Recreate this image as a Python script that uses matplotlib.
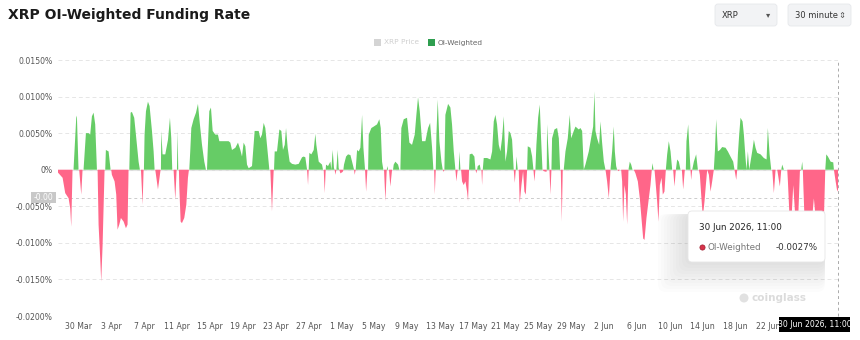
import matplotlib
matplotlib.use("Agg")
import matplotlib.pyplot as plt
from matplotlib.patches import FancyBboxPatch, Rectangle, Circle
import numpy as np
import pandas as pd

# funding rate (days after 27 Mar 2026 00:00, value in %)
start = pd.Timestamp("2026-03-27 00:00")
days = [
    0.50, 1.06, 1.38, 1.79, 1.99, 2.11, 2.27,
    2.39, 2.72, 2.80, 3.00,
    3.08, 3.33, 3.49,
    3.61, 3.90, 4.22, 4.42, 4.63, 4.83, 5.03, 5.24,
    5.32, 5.44, 5.64, 5.76, 5.93, 6.17,
    6.25, 6.33, 6.66, 6.90,
    6.98, 7.06, 7.39, 7.59, 7.75, 7.96, 8.16, 8.49, 8.77, 8.97, 9.09,
    9.18, 9.34, 9.50, 9.78, 10.11, 10.31, 10.47,
    10.60, 10.80, 10.92,
    10.96, 11.04, 11.21, 11.45, 11.65, 11.94, 12.14, 12.26,
    12.34, 12.67, 12.99,
    13.03, 13.07, 13.23, 13.56, 13.89, 14.13, 14.29, 14.41,
    14.57, 14.78, 14.94,
    14.98, 15.06, 15.14,
    15.22, 15.26, 15.43, 15.59, 15.87, 16.12, 16.32, 16.44,
    16.48, 16.60, 16.73, 17.01, 17.30, 17.54, 17.74, 18.03, 18.31, 18.51,
    18.64, 18.72, 18.92, 19.12, 19.33, 19.65, 19.97, 20.14, 20.46, 21.27,
    21.48, 21.68, 22.09, 22.41, 22.70, 22.90, 23.10, 23.31, 23.51, 23.71,
    24.12, 24.44, 24.93, 25.13, 25.33, 25.54, 25.74, 25.94, 26.23,
    26.35, 26.55, 26.76,
    26.80, 26.88, 27.16, 27.45, 27.69, 27.89, 28.10, 28.26, 28.46, 28.70,
    28.99, 29.39, 29.80, 30.21, 30.41, 30.61, 30.82,
    30.94, 31.02,
    31.10, 31.34, 31.63, 31.83, 31.95, 32.24, 32.64, 32.76,
    32.85, 32.97, 33.09,
    33.13, 33.37, 33.66, 33.78, 33.94, 34.10, 34.18,
    34.27, 34.39,
    34.55, 34.67, 34.75,
    34.88, 35.16, 35.24,
    35.32, 35.57, 35.81, 36.10, 36.39, 36.54,
    36.62, 36.74,
    36.91, 37.11, 37.31, 37.52, 37.68, 37.88,
    38.01, 38.17,
    38.25, 38.33, 38.65, 38.94, 39.34, 39.62, 39.79, 39.95, 40.11,
    40.19, 40.36, 40.52,
    40.60, 40.68,
    40.80, 40.96, 41.17,
    41.29, 41.37, 41.57, 41.90, 42.06,
    42.18, 42.30, 42.59, 42.99, 43.28, 43.60, 43.93, 44.13, 44.33, 44.54,
    44.82, 45.23, 45.55, 45.80, 46.04, 46.20,
    46.29, 46.37, 46.49,
    46.57, 46.73, 46.93, 47.18, 47.34,
    47.46, 47.54,
    47.66, 47.99, 48.27, 48.47, 48.68, 48.88,
    49.00, 49.16,
    49.29, 49.37, 49.49,
    49.57, 49.69, 49.89, 50.10, 50.30, 50.42, 50.54,
    50.62, 50.91, 51.19, 51.32,
    51.44, 51.52,
    51.60, 51.84, 51.96,
    52.05, 52.13, 52.21,
    52.33, 52.74, 53.14, 53.35, 53.55, 53.75, 53.95, 54.16, 54.36, 54.56,
    54.77, 54.97, 55.17, 55.38, 55.58, 55.78, 55.98,
    56.11, 56.23,
    56.31, 56.47,
    56.59, 56.71, 56.92, 57.12, 57.28, 57.45, 57.61,
    57.69, 58.01, 58.22, 58.38,
    58.50, 58.62,
    58.74, 58.95, 59.15, 59.31, 59.48,
    59.64, 59.96, 60.00,
    60.04, 60.21, 60.33,
    60.45, 60.57,
    60.65, 60.94, 61.26, 61.47, 61.63,
    61.71, 61.83, 61.95,
    62.07, 62.28, 62.56, 62.80, 62.97, 63.29, 63.50, 63.70, 63.90, 64.10,
    64.31, 64.51,
    64.71, 65.12, 65.40, 65.65, 65.81, 65.93, 66.13, 66.38, 66.54, 66.74,
    66.95, 67.15,
    67.35, 67.56, 67.76,
    67.96, 68.16, 68.29, 68.45, 68.57,
    68.77, 68.89, 69.06, 69.18, 69.30, 69.46, 69.63, 69.79, 69.95,
    70.11, 70.28, 70.44,
    70.60, 70.80, 71.09, 71.33, 71.53, 71.74, 71.90, 72.14, 72.43, 72.63, 72.79,
    72.87, 73.00,
    73.12, 73.24, 73.44, 73.60, 73.77, 73.97, 74.13, 74.33, 74.50,
    74.66, 74.86, 75.07, 75.27,
    75.39, 75.55, 75.72,
    75.88, 76.08, 76.28,
    76.45, 76.61, 76.81,
    76.93, 77.01, 77.22, 77.38, 77.50,
    77.58, 77.71,
    77.91, 78.19, 78.40,
    78.52, 78.64, 78.80, 79.00, 79.21, 79.37, 79.53, 79.74, 79.94, 80.14, 80.34,
    80.47, 80.63, 80.83, 81.08, 81.36, 81.77, 82.05, 82.37, 82.70, 82.86,
    83.07, 83.19,
    83.27, 83.43, 83.59, 83.84, 84.00, 84.20, 84.32,
    84.49, 84.65, 84.81, 85.01, 85.22, 85.42, 85.62, 86.03, 86.43, 86.76,
    86.92, 87.13, 87.33,
    87.45, 87.65, 87.86, 88.06, 88.38, 88.55,
    88.67, 88.87,
    89.28, 89.36, 89.56, 89.76, 90.01, 90.29, 90.57, 90.82, 90.98,
    91.10, 91.18,
    91.22, 91.39, 91.71, 92.04, 92.32, 92.52, 92.73, 92.93, 93.26, 93.54,
    93.74, 93.91,
    94.03, 94.23, 94.56, 94.88, 94.96,
    95.17, 95.37, 95.458,
]
rate = [
    -0.0004, -0.0011, -0.0032, -0.0039, -0.0053, -0.0078, 0,
    0, 0.0071, 0.0074, 0,
    0, -0.0034, 0,
    0, 0.0050, 0.0050, 0.0048, 0.0073, 0.0078, 0.0062, 0,
    0, -0.0075, -0.0121, -0.0153, -0.0103, 0,
    0, 0.0027, 0.0025, 0,
    0, -0.0007, -0.0016, -0.0034, -0.0082, -0.0075, -0.0066, -0.0071, -0.0080, -0.0075, 0,
    0, 0.0078, 0.0079, 0.0071, 0.0034, 0.0011, 0,
    0, -0.0048, 0,
    0, 0.0048, 0.0080, 0.0093, 0.0087, 0.0053, 0.0025, 0,
    0, -0.0027, 0,
    0, 0.0053, 0.0021, 0.0021, 0.0041, 0.0071, 0.0043, 0,
    0, -0.0041, 0,
    0, 0.0053, 0,
    0, -0.0021, -0.0071, -0.0073, -0.0066, -0.0048, -0.0011, 0,
    0, 0.0025, 0.0057, 0.0069, 0.0078, 0.0090, 0.0066, 0.0034, 0.0011, 0,
    0, 0.0025, 0.0080, 0.0085, 0.0053, 0.0048, 0.0048, 0.0039, 0.0039, 0.0039,
    0.0037, 0.0027, 0.0030, 0.0037, 0.0027, 0.0018, 0.0037, 0.0032, 0.0007, 0.0002,
    0.0005, 0.0053, 0.0053, 0.0043, 0.0048, 0.0064, 0.0057, 0.0034, 0,
    0, -0.0057, 0,
    0, 0.0025, 0.0025, 0.0055, 0.0053, 0.0027, 0.0034, 0.0057, 0.0030, 0.0011,
    0.0008, 0.0007, 0.0008, 0.0017, 0.0018, 0.0017, 0,
    -0.0021, 0,
    0.0023, 0.0021, 0.0027, 0.0049, 0.0034, 0.0011, 0.0007, 0,
    0, -0.0032, 0,
    0.0007, 0.0005, 0.0011, 0, 0.0027, 0.0002, 0,
    -0.0007, 0,
    0.0027, 0.0002, 0,
    -0.0005, -0.0003, 0,
    0.0007, 0.0018, 0.0021, 0.0020, 0.0007, 0,
    -0.0007, 0,
    0.0027, 0.0025, 0.0030, 0.0075, 0.0030, 0,
    -0.0030, 0,
    0, 0.0048, 0.0057, 0.0059, 0.0062, 0.0069, 0.0057, 0.0011, 0,
    0, -0.0043, 0,
    0.0005, 0,
    0, -0.0023, 0,
    0, 0.0007, 0.0011, 0.0007, 0,
    0, 0.0057, 0.0069, 0.0071, 0.0037, 0.0034, 0.0048, 0.0075, 0.0099, 0.0080,
    0.0039, 0.0039, 0.0057, 0.0064, 0.0030, 0,
    0, -0.0034, 0,
    0.0048, 0.0096, 0.0039, 0.0011, 0,
    -0.0003, 0,
    0.0075, 0.0090, 0.0085, 0.0062, 0.0025, 0,
    -0.0016, 0,
    0, 0.0025, 0,
    0, -0.0016, -0.0021, -0.0016, -0.0030, -0.0043, 0,
    0.0021, 0.0022, 0.0018, 0,
    -0.0005, 0,
    0.0005, 0.0007, 0,
    0, -0.0021, 0,
    0.0016, 0.0016, 0.0014, 0.0025, 0.0066, 0.0075, 0.0062, 0.0034, 0.0025, 0.0043,
    0.0073, 0.0011, 0.0025, 0.0053, 0.0050, 0.0041, 0,
    -0.0018, 0,
    0.0018, 0,
    0, -0.0046, -0.0021, -0.0002, -0.0030, -0.0034, 0,
    0.0032, 0.0030, 0.0018, 0,
    -0.0016, 0,
    0.0034, 0.0071, 0.0089, 0.0043, 0,
    -0.0002, -0.0003, 0,
    0.0062, 0.0025, 0,
    -0.0034, 0,
    0.0043, 0.0055, 0.0057, 0.0043, 0,
    0, -0.0071, 0,
    0, 0.0025, 0.0043, 0.0075, 0.0043, 0.0053, 0.0059, 0.0057, 0.0055, 0.0057,
    0.0053, 0,
    0.0007, 0.0025, 0.0043, 0.0059, 0.0107, 0.0053, 0.0043, 0.0034, 0.0066, 0.0037,
    0.0011, 0,
    -0.0016, -0.0039, 0,
    0.0025, 0.0059, 0.0025, 0.0005, 0,
    -0.0002, 0, 0, -0.0016, -0.0071, -0.0021, -0.0034, -0.0075, 0,
    0.0011, 0.0007, 0,
    0, -0.0005, -0.0016, -0.0039, -0.0066, -0.0094, -0.0096, -0.0066, -0.0039, -0.0021, 0,
    0.0009, 0,
    0, -0.0016, -0.0043, -0.0071, -0.0021, -0.0011, -0.0034, -0.0030, 0,
    0.0021, 0.0039, 0.0025, 0,
    0, -0.0023, 0,
    0.0014, 0.0011, 0,
    0, -0.0027, 0,
    0, 0.0039, 0.0062, 0.0025, 0,
    -0.0014, 0,
    0.0011, 0.0021, 0,
    0, -0.0007, -0.0034, -0.0065, -0.0043, -0.0021, 0, -0.0007, -0.0030, -0.0016, 0,
    0.0025, 0.0069, 0.0025, 0.0027, 0.0031, 0.0030, 0.0025, 0.0018, 0.0011, 0,
    -0.0014, 0,
    0.0021, 0.0048, 0.0071, 0.0066, 0.0048, 0.0016, 0,
    0.0025, 0, 0.0011, 0.0025, 0.0041, 0.0030, 0.0023, 0.0021, 0.0016, 0.0014,
    0.0057, 0.0021, 0,
    0, -0.0032, 0, 0, -0.0023, 0,
    0.0007, 0,
    0, -0.0016, -0.0066, -0.0075, -0.0021, -0.0070, -0.0080, -0.0002, 0,
    0.0011, 0,
    -0.0016, -0.0070, -0.0060, -0.0075, -0.0065, -0.0039, -0.0065, -0.0058, -0.0070, -0.0060,
    -0.0068, 0,
    0.0021, 0.0018, 0.0011, 0.0010, 0,
    -0.0016, -0.0030, -0.0027,
]
yticks = [0.015, 0.01, 0.005, 0, -0.005, -0.01, -0.015, -0.02]
xticks = pd.date_range("2026-03-30", "2026-06-22", freq="4D")
hover_value = "-0.0027%"
hover_label = "30 Jun 2026, 11:00"

t = start + pd.to_timedelta(days, unit="D")
r = np.array(rate)

green = "#66cc66"
pink = "#ff6689"

fig = plt.figure(figsize=(8.6, 3.4), dpi=100)
fig.patch.set_facecolor("white")
ax = fig.add_axes([58 / 860, 24 / 340, 780 / 860, 256 / 340])

ax.fill_between(t, r, 0, where=r >= 0, interpolate=True, color=green, lw=0, zorder=2)
ax.fill_between(t, r, 0, where=r <= 0, interpolate=True, color=pink, lw=0, zorder=2)
ax.axhline(0, color="#dcdcdc", lw=0.8, zorder=1)

ax.set_xlim(t[0], t[-1])
ax.set_ylim(-0.02, 0.015)
ax.set_yticks(yticks)
ax.set_yticklabels(["0%" if v == 0 else f"{v:.4f}%" for v in yticks])
ax.set_xticks(xticks)
ax.set_xticklabels([f"{d.day} {d:%b}" for d in xticks])
ax.tick_params(length=0, labelsize=5.6, colors="#555555")
ax.tick_params(axis="y", pad=4)
ax.tick_params(axis="x", pad=4)
ax.yaxis.grid(True, color="#e6e6e6", lw=0.7, linestyle=(0, (4, 3)), zorder=0)
for s in ax.spines.values():
    s.set_visible(False)

# crosshair
ax.axvline(t[-1], color="#aaaaaa", lw=0.7, linestyle=(0, (3, 3)), clip_on=False, zorder=3)
ax.axhline(-0.0038, color="#cccccc", lw=0.7, linestyle=(0, (3, 3)), zorder=1)

# overlay in pixel coordinates for the page furniture
ov = fig.add_axes([0, 0, 1, 1], zorder=5)
ov.set_xlim(0, 860)
ov.set_ylim(340, 0)
ov.axis("off")

ov.text(8, 15, "XRP OI-Weighted Funding Rate", fontsize=10, fontweight="bold",
        color="#1b1b1b", va="center", ha="left")

# selectors
for x0, w, label, arrow in [(715, 62, "XRP", "▾"), (788, 63, "30 minute", "⇕")]:
    ov.add_patch(FancyBboxPatch((x0, 4), w, 22, boxstyle="round,pad=0,rounding_size=3",
                                fc="#f2f3f5", ec="#e6e8eb", lw=0.6))
    ov.text(x0 + 7, 15, label, fontsize=6, color="#333333", va="center")
    ov.text(x0 + w - 9, 15, arrow, fontsize=6, color="#555555", va="center", ha="center")

# legend
ov.add_patch(Rectangle((374, 39), 7, 7, fc="#d4d4d4", ec="none"))
ov.text(384, 42.5, "XRP Price", fontsize=5.3, color="#cfcfcf", va="center")
ov.add_patch(Rectangle((428, 39), 7, 7, fc="#2e9e4f", ec="none"))
ov.text(438, 42.5, "OI-Weighted", fontsize=5.3, color="#666666", va="center")

# y crosshair label
ov.add_patch(Rectangle((31, 192), 25, 11, fc="#c8c8c8", ec="none"))
ov.text(43.5, 197.5, "-0.00", fontsize=5.5, color="white", va="center", ha="center")

# watermark
ov.add_patch(Circle((744, 298), 4.5, fc="#dadada", ec="none", alpha=0.8))
ov.text(751, 298, "coinglass", fontsize=7.5, fontweight="bold", color="#d8d8d8",
        va="center", ha="left", alpha=0.9)

# tooltip with soft shadow
for i in range(10):
    g = 30 - i * 3
    ov.add_patch(FancyBboxPatch((688 - g, 214), 137 + g, 48 + g,
                                boxstyle="round,pad=0,rounding_size=8",
                                fc="#808080", ec="none", alpha=0.022))
ov.add_patch(FancyBboxPatch((688, 211), 137, 51, boxstyle="round,pad=0,rounding_size=4",
                            fc="white", ec="#e6e6e6", lw=0.6))
ov.text(699, 227, hover_label, fontsize=6.3, color="#222222", va="center")
ov.add_patch(Circle((702.5, 247.5), 2.6, fc="#d8334a", ec="#9e1f30", lw=0.5))
ov.text(708, 247.5, "OI-Weighted", fontsize=6.3, color="#777777", va="center")
ov.text(776, 247.5, hover_value, fontsize=6.3, color="#333333", va="center")

# x crosshair label
ov.add_patch(Rectangle((779, 317), 71, 15, fc="black", ec="none"))
ov.text(814.5, 324.5, hover_label, fontsize=5.6, color="white", va="center", ha="center")

fig.savefig("out.png", dpi=100, facecolor="white")
